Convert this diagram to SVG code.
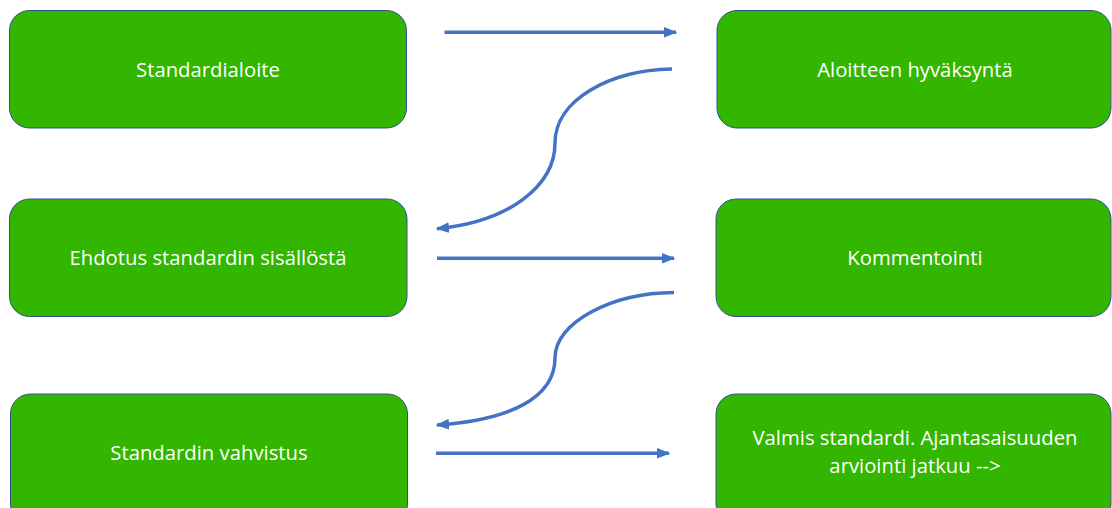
<svg xmlns="http://www.w3.org/2000/svg" width="1112" height="508" viewBox="0 0 1112 508">
<style>
.box{fill:#32B600;stroke:#2F528F;stroke-width:1}
.lbl{font-family:"Open Sans","Liberation Sans",sans-serif;font-size:20.3px;fill:#ffffff;text-anchor:middle}
.con{fill:none;stroke:#4472C4;stroke-width:3.5}
</style>
<defs>
<marker id="ah" viewBox="0 0 10 8" refX="9" refY="4" markerWidth="3.8" markerHeight="3.1" orient="auto" markerUnits="strokeWidth">
<path d="M0,0 L10,4 L0,8 Z" fill="#4472C4"/>
</marker>
</defs>
<rect width="1112" height="508" fill="#ffffff"/>
<g id="n1"><rect class="box" x="9.5" y="10.5" width="397" height="117.5" rx="20"/><text class="lbl" x="208" y="77">Standardialoite</text></g>
<g id="n2"><rect class="box" x="717" y="10.5" width="394" height="117.5" rx="20"/><text class="lbl" x="915" y="77">Aloitteen hyväksyntä</text></g>
<g id="n3"><rect class="box" x="9.5" y="199" width="397.5" height="117.5" rx="20"/><text class="lbl" x="208" y="265">Ehdotus standardin sisällöstä</text></g>
<g id="n4"><rect class="box" x="716" y="199" width="395" height="117.5" rx="20"/><text class="lbl" x="915" y="265">Kommentointi</text></g>
<g id="n5"><rect class="box" x="10.5" y="394" width="397" height="130" rx="20"/><text class="lbl" x="209" y="460">Standardin vahvistus</text></g>
<g id="n6"><rect class="box" x="716" y="394" width="395" height="130" rx="20"/><text class="lbl" x="915" y="445">Valmis standardi. Ajantasaisuuden</text><text class="lbl" x="915" y="473">arviointi jatkuu --&gt;</text></g>
<g id="connectors">
<path class="con" d="M444.5,32.3 L676,32.3" marker-end="url(#ah)"/>
<path class="con" d="M672,69 C610,70 555,100 555,143 C555,185 510,222 437,228.7" marker-end="url(#ah)"/>
<path class="con" d="M437,258.3 L674,258.3" marker-end="url(#ah)"/>
<path class="con" d="M674,292.5 C612,293 555,322 555,358 C555,398 510,420 437,425" marker-end="url(#ah)"/>
<path class="con" d="M436,453.3 L669,453.3" marker-end="url(#ah)"/>
</g>
</svg>
